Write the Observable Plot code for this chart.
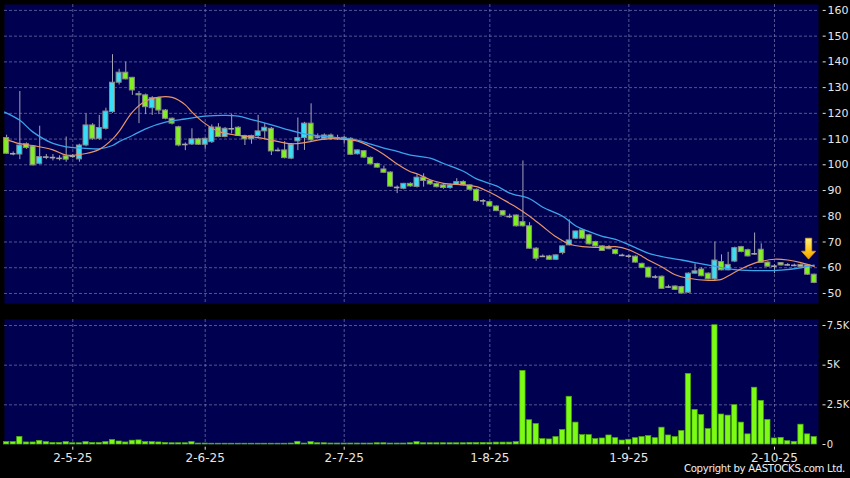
<!DOCTYPE html>
<html><head><meta charset="utf-8">
<script src="https://cdn.jsdelivr.net/npm/d3@7"></script>
<script src="https://cdn.jsdelivr.net/npm/@observablehq/plot@0.6"></script>
<style>
html,body{margin:0;padding:0;background:#000;}
#chart{position:relative;width:850px;height:478px;background:#000;overflow:hidden;}
#chart svg{display:block;}
#copy{position:absolute;right:5px;top:463px;line-height:12px;color:#f0f0f0;font-family:"DejaVu Sans",sans-serif;font-size:10.2px;letter-spacing:-0.35px;white-space:nowrap;}
</style></head><body><div id="chart"><div id="copy"></div></div>
<script>
// ---- data ----
const tickIdx = [10, 30, 51, 73, 94, 116];
const tickLabels = ["2-5-25", "2-6-25", "2-7-25", "1-8-25", "1-9-25", "2-10-25"];
const priceTicks = [50, 60, 70, 80, 90, 100, 110, 120, 130, 140, 150, 160];
const volTicks = [0, 2.5, 5, 7.5];
const volTickLabels = ["0", "2.5K", "5K", "7.5K"];
const copyright = "Copyright by AASTOCKS.com Ltd.";
const arrowIdx = 121;

const open = [110.4,104.3,104.0,108.0,107.1,100.4,103.0,102.8,102.5,103.3,
103.3,102.1,107.5,115.3,110.1,114.0,120.5,131.9,135.8,133.8,
127.5,127.0,122.0,125.9,121.1,117.9,114.6,107.9,107.9,109.9,
107.8,108.8,114.5,110.8,114.0,114.4,111.2,109.9,111.2,113.0,
114.0,105.6,105.6,102.4,109.1,110.4,116.0,110.8,110.1,111.4,
110.5,110.5,110.1,104.1,105.3,102.7,100.3,98.2,97.0,91.2,
90.7,92.6,91.4,95.0,93.7,92.6,92.0,91.0,92.2,93.3,
92.0,90.3,86.0,85.5,83.8,82.0,79.9,80.3,77.7,76.1,
67.4,64.4,64.4,63.1,65.7,68.7,71.3,74.5,72.6,70.0,
68.3,67.2,66.9,64.8,64.5,64.3,61.5,60.0,56.4,56.5,
52.5,52.7,52.5,50.3,57.7,59.3,57.7,55.5,62.2,59.0,
62.4,68.0,66.8,65.4,67.0,62.0,60.6,61.8,61.1,60.9,
61.1,60.9,57.3];
const high = [111.5,105.0,128.5,108.5,107.5,115.0,104.0,104.0,103.5,110.8,
104.0,108.0,119.8,116.0,119.2,122.0,142.8,137.1,139.9,134.0,
128.5,127.5,126.5,126.2,121.5,118.2,115.0,108.5,114.0,110.3,
110.5,115.5,116.0,114.5,119.6,114.8,111.5,111.5,119.2,116.0,
114.5,106.5,109.0,108.0,118.2,116.5,123.7,112.0,112.0,112.0,
111.5,111.0,110.5,105.8,105.5,103.0,100.6,99.5,97.3,91.8,
92.8,93.0,96.3,96.5,94.0,93.0,92.3,92.5,94.6,93.8,
92.3,90.6,86.5,85.8,84.0,82.3,80.8,80.5,101.5,77.5,
67.8,65.0,64.8,65.0,68.5,78.6,74.2,74.8,73.0,70.3,
68.5,68.6,67.2,65.3,65.0,64.6,61.8,60.2,57.0,56.8,
53.2,53.0,52.8,58.0,61.5,60.0,58.0,70.0,65.0,66.0,
68.0,68.3,67.2,73.5,69.3,62.3,61.2,62.0,61.6,61.4,
61.5,61.2,57.5];
const low = [104.0,103.5,102.0,106.0,99.5,100.0,102.0,101.5,101.5,101.0,
102.5,101.0,107.0,109.5,109.5,113.5,120.0,131.0,133.0,127.0,
116.0,119.5,119.2,119.5,117.5,115.5,107.0,105.5,107.5,107.5,
106.0,108.3,110.5,110.5,112.0,111.0,107.5,108.0,110.0,110.0,
103.6,105.0,102.3,102.0,105.5,105.6,109.0,110.0,109.5,109.5,
109.5,108.0,103.6,103.8,102.4,100.0,98.7,96.6,91.3,88.8,
90.3,91.3,91.0,91.3,92.0,91.0,90.5,90.5,92.0,91.8,
90.0,85.5,84.2,83.6,81.8,80.0,79.2,75.8,75.8,67.2,
62.5,64.0,62.8,62.8,65.0,68.5,71.0,71.0,68.8,68.0,
66.3,67.0,65.0,64.3,63.5,61.8,59.6,56.0,55.6,51.6,
52.0,51.2,49.8,50.0,57.5,56.5,55.3,54.7,58.8,58.8,
62.0,65.8,64.2,64.8,61.7,60.2,57.7,60.7,60.6,60.4,
60.0,57.0,53.8];
const close = [104.3,104.3,107.5,106.5,99.8,103.0,103.0,102.8,102.5,102.0,
103.3,107.5,115.3,110.1,114.3,120.7,131.9,135.8,133.2,128.9,
127.0,122.4,125.9,121.1,117.9,116.0,107.5,107.9,109.9,107.8,
110.1,114.5,110.8,114.0,114.0,111.2,109.9,111.2,113.0,114.4,
105.2,105.6,102.6,107.8,110.4,116.0,109.5,110.8,111.4,110.1,
110.5,109.8,103.9,105.6,102.8,100.2,98.9,96.9,91.5,91.2,
92.6,91.6,95.0,93.7,92.4,91.3,91.0,92.0,93.3,92.0,
90.3,85.9,86.0,83.8,82.0,80.3,79.9,76.1,76.1,67.4,
63.5,64.4,63.1,64.8,68.3,70.6,74.1,71.3,69.1,68.3,
66.5,68.0,65.3,64.8,64.5,62.0,59.9,56.2,56.4,51.8,
52.5,51.4,50.0,57.7,58.6,56.7,55.5,62.8,59.0,61.1,
67.6,66.1,64.4,65.4,61.9,60.4,60.6,60.9,61.1,60.9,
60.3,57.3,54.1];
// volume in thousands
const volume = [0.15,0.15,0.48,0.13,0.13,0.23,0.15,0.10,0.10,0.15,
0.08,0.08,0.15,0.10,0.10,0.15,0.28,0.19,0.13,0.24,
0.26,0.15,0.15,0.13,0.10,0.08,0.08,0.08,0.15,0.06,
0.06,0.05,0.05,0.05,0.05,0.05,0.05,0.05,0.05,0.05,
0.05,0.05,0.05,0.06,0.17,0.06,0.15,0.08,0.08,0.06,
0.06,0.06,0.06,0.06,0.06,0.06,0.08,0.08,0.06,0.06,
0.06,0.08,0.15,0.08,0.08,0.08,0.08,0.08,0.08,0.08,
0.10,0.10,0.10,0.10,0.12,0.12,0.12,0.15,4.64,1.53,
1.29,0.34,0.32,0.47,0.91,3.01,1.38,0.59,0.59,0.34,
0.38,0.57,0.40,0.25,0.30,0.40,0.47,0.53,0.40,1.06,
0.57,0.47,0.85,4.45,2.18,1.86,0.97,7.52,1.89,1.82,
2.48,1.38,0.64,3.58,2.75,1.55,0.38,0.42,0.21,0.17,
1.25,0.64,0.47];
// moving averages (index, value)
const ma10Idx = [-0.3,2,4,7,9,12,14,16,17,19,21,23,25,27,28,30,32,35,38,40,43,45,47,49,51,53,55,57,59,61,62,64,66,69,71,72,74,76,77,79,81,83,85,87,90,92,94,96,97,99,101,103,106,108,109,111,113,114,116,118,120,122];
const ma10Val = [110.1,108.2,107.5,105.8,103.8,104.4,106.0,110.0,113.0,120.5,124.8,126.3,126.2,123.3,120.5,116.0,113.0,111.4,110.6,109.6,108.2,108.6,109.6,110.2,109.9,109.2,107.0,104.0,100.3,97.3,96.5,94.2,92.8,92.2,91.5,90.5,88.0,85.0,83.5,80.0,76.0,72.0,69.2,68.2,67.9,68.2,67.0,64.5,62.9,60.3,57.3,55.9,55.1,55.5,56.8,59.6,61.8,62.5,63.3,63.0,62.0,60.5];
const ma20Idx = [-0.3,2,4,7,9,12,14,16,17,19,21,24,27,30,33,35,37,40,42,45,48,50,53,55,57,59,61,64,66,69,71,74,76,79,81,84,86,88,90,92,95,97,100,102,105,108,110,114,117,120,122];
const ma20Val = [120.5,117.3,112.7,108.3,107.0,106.4,106.2,107.5,109.0,111.4,114.0,116.6,117.8,118.9,119.2,118.9,117.6,115.5,114.0,112.0,111.0,110.5,109.6,108.0,106.5,105.2,103.8,102.6,100.5,97.5,94.5,91.8,89.0,86.8,83.5,80.0,76.2,74.0,72.2,71.0,67.8,65.6,63.8,63.0,61.5,60.0,59.3,58.9,59.1,60.0,61.0];

// ---- derived tables ----
const candles = open.map((o, i) => ({i, o, h: high[i], l: low[i], c: close[i]}));
const bodies = candles.filter(d => d.o !== d.c);
const dojis = candles.filter(d => d.o === d.c);
const vols = volume.map((v, i) => ({i, v}));

const GREEN = "#80f020", CYAN = "#38def6", NAVY = "#000050";
const gridStyle = {stroke: "#8c8cc0", strokeOpacity: 0.6, strokeDasharray: "3,2"};
const xDomain = [-0.317, 122.65];
const baseStyle = {background: "#000", color: "#e6e6e6", fontFamily: "DejaVu Sans, sans-serif", overflow: "visible"};

function arrowMark(index, scales) {
  const cx = scales.x(arrowIdx) + 1.5;
  const tip = scales.y(high[arrowIdx]) - 5;
  const g = d3.create("svg:g");
  const grad = g.append("defs").append("linearGradient")
    .attr("id", "arrowGrad").attr("x1", 0).attr("y1", 0).attr("x2", 0).attr("y2", 1);
  grad.append("stop").attr("offset", "0%").attr("stop-color", "#fff07a");
  grad.append("stop").attr("offset", "55%").attr("stop-color", "#ffc81e");
  grad.append("stop").attr("offset", "100%").attr("stop-color", "#f0a000");
  g.append("path")
    .attr("d", `M${cx-3.2},${tip-21}H${cx+3.2}V${tip-8}H${cx+7.2}L${cx},${tip}L${cx-7.2},${tip-8}H${cx-3.2}Z`)
    .attr("fill", "url(#arrowGrad)")
    .attr("stroke", "#e0a010").attr("stroke-width", 0.6);
  return g.node();
}

const price = Plot.plot({
  width: 850, height: 310,
  marginLeft: 4, marginRight: 32, marginTop: 4, marginBottom: 7,
  style: {...baseStyle, fontSize: "11px"},
  x: {domain: xDomain, axis: null},
  y: {domain: [46.1, 162.3]},
  marks: [
    Plot.frame({fill: NAVY}),
    Plot.gridY(priceTicks, gridStyle),
    Plot.gridX(tickIdx, gridStyle),
    Plot.axisY(priceTicks, {anchor: "right", tickSize: 3, tickPadding: 2.3, dx: 3.7, label: null, fontSize: 11}),
    Plot.ruleX(candles, {x: "i", y1: "l", y2: "h", stroke: "#a4a4b4", strokeWidth: 1}),
    Plot.rect(bodies, {
      x1: d => d.i - 0.38, x2: d => d.i + 0.38,
      y1: d => Math.min(d.o, d.c), y2: d => Math.max(d.o, d.c),
      fill: d => d.c > d.o ? CYAN : GREEN, stroke: "#8a8a8a", strokeWidth: 1
    }),
    Plot.ruleY(dojis, {y: "c", x1: d => d.i - 0.42, x2: d => d.i + 0.42, stroke: "#a8a8a8", strokeWidth: 1.6}),
    Plot.line(ma20Idx, {x: d => d, y: (d, i) => ma20Val[i], curve: "catmull-rom", stroke: "#3aa4ea", strokeWidth: 1.3}),
    Plot.line(ma10Idx, {x: d => d, y: (d, i) => ma10Val[i], curve: "catmull-rom", stroke: "#e8946a", strokeWidth: 1.2}),
    arrowMark
  ]
});

const vol = Plot.plot({
  width: 850, height: 168,
  marginLeft: 4, marginRight: 32, marginTop: 9, marginBottom: 34,
  style: {...baseStyle, fontSize: "12px"},
  x: {domain: xDomain},
  y: {domain: [0, 7.88]},
  marks: [
    Plot.frame({fill: NAVY}),
    Plot.gridY([2.5, 5, 7.5], gridStyle),
    Plot.gridX(tickIdx, gridStyle),
    Plot.rect(vols, {x1: d => d.i - 0.4, x2: d => d.i + 0.4, y1: 0, y2: "v", fill: "#7cfc14", stroke: "#4fa80e", strokeWidth: 0.7}),
    Plot.axisY(volTicks, {anchor: "right", tickSize: 3, tickPadding: 1.8, dx: 3.5, label: null, fontSize: 10,
      tickFormat: d => volTickLabels[volTicks.indexOf(d)]}),
    Plot.axisX(tickIdx, {anchor: "bottom", tickSize: 3, tickPadding: 3, dy: 2.7, label: null, fontSize: 12,
      tickFormat: d => tickLabels[tickIdx.indexOf(d)]})
  ]
});

const chart = document.getElementById("chart");
chart.insertBefore(vol, chart.firstChild);
chart.insertBefore(price, vol);
document.getElementById("copy").textContent = copyright;
</script></body></html>
